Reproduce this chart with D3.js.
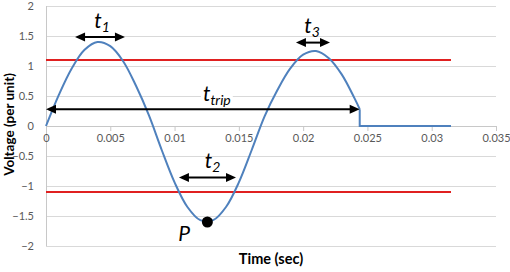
<!DOCTYPE html>
<html>
<head>
<meta charset="utf-8">
<script src="https://cdn.jsdelivr.net/npm/d3@7"></script>
<style>
  html, body { margin: 0; padding: 0; background: #fff; }
  svg { display: block; }
</style>
</head>
<body>
<svg id="chart" width="510" height="272"></svg>
<script>
// waveform (sec, per unit)
const timeSec = [0, 0.001, 0.002, 0.003, 0.004, 0.005, 0.006, 0.007, 0.008,
	0.009, 0.010, 0.011, 0.012, 0.013, 0.014, 0.015, 0.016,
	0.017, 0.018, 0.019, 0.020, 0.021, 0.022, 0.023, 0.024, 0.0244];
const voltage = [0, 0.52, 0.96, 1.27, 1.40, 1.33, 1.08, 0.67, 0.18,
	-0.40, -0.94, -1.35, -1.57, -1.57, -1.35, -0.94, -0.40,
	0.16, 0.60, 0.96, 1.19, 1.25, 1.13, 0.86, 0.46, 0.28];
// after the trip the voltage drops to zero
const tailTime = [0.0244, 0.0244, 0.0315];
const tailVolt = [0.28, 0, 0];
// pickup limits
const limitLevels = [1.1, -1.1];
const limitStart = 0, limitEnd = 0.0315;
// ticks
const xTicks = [0, 0.005, 0.01, 0.015, 0.02, 0.025, 0.03, 0.035];
const yTicks = [-2, -1.5, -1, -0.5, 0, 0.5, 1, 1.5, 2];
// interval arrows
const spanNames = ["1", "3", "2", "trip"];
const spanFrom = [0.00226, 0.01944, 0.01034, 0];
const spanTo = [0.00614, 0.02209, 0.01478, 0.0244];
const spanLevel = [1.483, 1.39, -0.86, 0.28];
// point P
const peakPoint = [0.01255, -1.6];

var svg = d3.select("#chart");
var x = d3.scaleLinear().domain([0, 0.035]).range([46, 496]);
var y = d3.scaleLinear().domain([-2, 2]).range([246, 6]);
var font = "Lato, 'Open Sans', sans-serif";

// horizontal gridlines
svg.append("g").selectAll("line").data(yTicks).enter().append("line")
	.attr("x1", x(0)).attr("x2", x(0.035))
	.attr("y1", d => y(d)).attr("y2", d => y(d))
	.attr("stroke", "#d9d9d9").attr("stroke-width", 1)
	.attr("shape-rendering", "crispEdges");

// y axis line
svg.append("line")
	.attr("x1", x(0)).attr("x2", x(0)).attr("y1", y(2)).attr("y2", y(-2))
	.attr("stroke", "#c8c8c8").attr("shape-rendering", "crispEdges");

// x axis crosses at 0
var xAxis = d3.axisBottom(x).tickValues(xTicks).tickSize(5).tickPadding(3)
	.tickFormat(d => d3.format("~g")(d));
var gx = svg.append("g").attr("transform", "translate(0," + y(0) + ")").call(xAxis);
gx.select(".domain").attr("stroke", "#c8c8c8");
gx.selectAll(".tick line").attr("stroke", "#c8c8c8");
gx.selectAll("text").attr("fill", "#595959").attr("font-size", 11).attr("font-family", font);

var yAxis = d3.axisLeft(y).tickValues(yTicks).tickSize(0).tickPadding(12)
	.tickFormat(d => d3.format("~g")(d));
var gy = svg.append("g").attr("transform", "translate(" + x(0) + ",0)").call(yAxis);
gy.select(".domain").remove();
gy.selectAll("text").attr("fill", "#595959").attr("font-size", 11).attr("font-family", font);

// limit lines
svg.append("g").selectAll("line").data(limitLevels).enter().append("line")
	.attr("x1", x(limitStart)).attr("x2", x(limitEnd))
	.attr("y1", d => y(d)).attr("y2", d => y(d))
	.attr("stroke", "#e02020").attr("stroke-width", 2);

// waveform
var wave = timeSec.map((t, i) => [t, voltage[i]]);
var tail = tailTime.map((t, i) => [t, tailVolt[i]]);
svg.append("path").datum(wave)
	.attr("fill", "none").attr("stroke", "#4f81bd").attr("stroke-width", 2)
	.attr("d", d3.line().x(d => x(d[0])).y(d => y(d[1])).curve(d3.curveCatmullRom.alpha(0.5)));
svg.append("path").datum(tail)
	.attr("fill", "none").attr("stroke", "#4f81bd").attr("stroke-width", 2)
	.attr("d", d3.line().x(d => x(d[0])).y(d => y(d[1])));

// double arrows
function arrowHead(px, py, dir) {
	var len = 10, half = 4.5;
	return "M" + px + "," + py + "L" + (px - dir * len) + "," + (py - half) +
		"L" + (px - dir * len) + "," + (py + half) + "Z";
}
var labelDx = [2, -1, 5, 14];
var labelDy = [-9, -10, -10, -8];
spanNames.forEach(function(name, i) {
	var x1 = x(spanFrom[i]), x2 = x(spanTo[i]), yy = y(spanLevel[i]);
	var g = svg.append("g");
	g.append("line").attr("x1", x1 + 4).attr("x2", x2 - 4).attr("y1", yy).attr("y2", yy)
		.attr("stroke", "#000").attr("stroke-width", 2);
	g.append("path").attr("d", arrowHead(x1, yy, -1)).attr("fill", "#000");
	g.append("path").attr("d", arrowHead(x2, yy, 1)).attr("fill", "#000");

	var cx = (x1 + x2) / 2 + labelDx[i];
	var ty = yy + labelDy[i];
	var txt = svg.append("text")
		.attr("x", cx).attr("y", ty)
		.attr("text-anchor", "middle")
		.attr("font-family", font).attr("font-style", "italic")
		.attr("fill", "#000");
	txt.append("tspan").attr("font-size", 21).text("t");
	txt.append("tspan").attr("font-size", 14).attr("dy", 4).text(name);
	if (name === "trip") {
		// label box hides the gridline behind it
		var bb = txt.node().getBBox();
		svg.insert("rect", () => txt.node())
			.attr("x", bb.x - 2).attr("y", bb.y + 3)
			.attr("width", bb.width + 4).attr("height", bb.height - 6)
			.attr("fill", "#fff");
	}
});

// point P
svg.append("circle")
	.attr("cx", x(peakPoint[0])).attr("cy", y(peakPoint[1])).attr("r", 5.5)
	.attr("fill", "#000");
svg.append("text")
	.attr("x", x(peakPoint[0]) - 29).attr("y", y(peakPoint[1]) + 19)
	.attr("font-family", font).attr("font-style", "italic").attr("font-size", 21)
	.text("P");

// axis titles
svg.append("text")
	.attr("x", x(0.0175)).attr("y", 264)
	.attr("text-anchor", "middle")
	.attr("font-family", font).attr("font-weight", "bold").attr("font-size", 14.5)
	.text("Time (sec)");
svg.append("text")
	.attr("transform", "translate(14,124.5) rotate(-90)")
	.attr("text-anchor", "middle")
	.attr("font-family", font).attr("font-weight", "bold").attr("font-size", 13.5)
	.text("Voltage (per unit)");
</script>
</body>
</html>
